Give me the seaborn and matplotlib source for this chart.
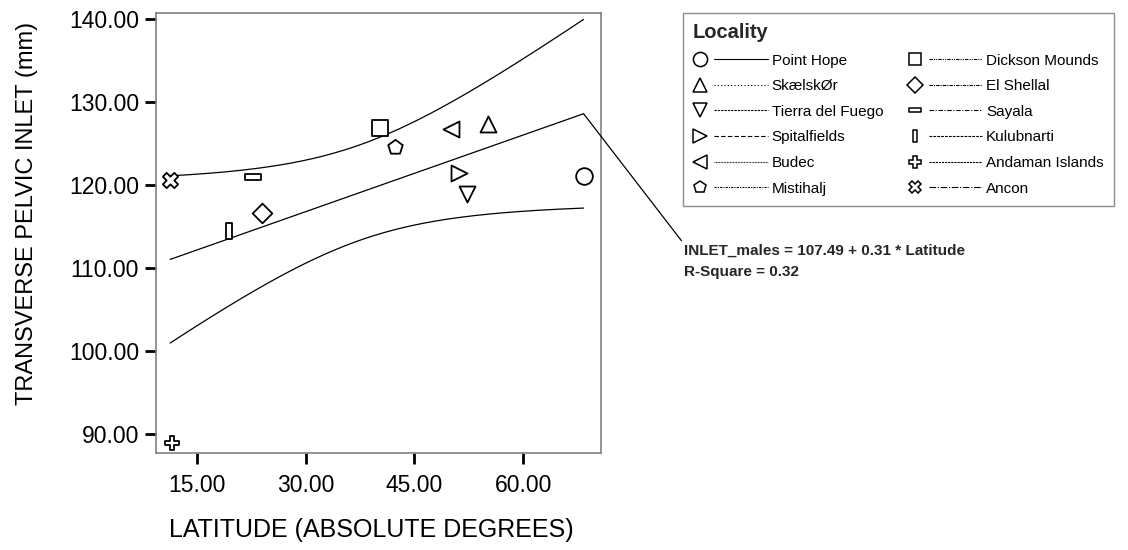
import matplotlib
matplotlib.use("Agg")
import matplotlib.pyplot as plt
import seaborn as sns
import pandas as pd
import numpy as np
from matplotlib.path import Path
from matplotlib.lines import Line2D
from matplotlib.legend_handler import HandlerBase

# data
localities = ['Point Hope', 'Skælskør', 'Tierra del Fuego', 'Spitalfields', 'Budec', 'Mistihalj',
              'Dickson Mounds', 'El Shellal', 'Sayala', 'Kulubnarti', 'Andaman Islands', 'Ancon']
latitude = [68.3, 55.2, 52.3, 51.2, 50.1, 42.3, 40.2, 23.95, 22.8, 19.5, 11.6, 11.34]
inlet = [121.1, 127.4, 118.9, 121.5, 126.7, 124.6, 126.9, 116.6, 121.0, 114.5, 88.9, 120.6]
legend_labels = ['Point Hope', 'SkælskØr', 'Tierra del Fuego', 'Spitalfields', 'Budec', 'Mistihalj',
                 'Dickson Mounds', 'El Shellal', 'Sayala', 'Kulubnarti', 'Andaman Islands', 'Ancon']
yticks = [90, 100, 110, 120, 130, 140]
xticks = [15, 30, 45, 60]

df = pd.DataFrame({'Locality': localities, 'Latitude': latitude, 'INLET': inlet})

# marker shapes
hrect = Path([(-3, -1), (3, -1), (3, 1), (-3, 1), (-3, -1)], closed=True)
vrect = Path([(-1, -3), (1, -3), (1, 3), (-1, 3), (-1, -3)], closed=True)
markers = {'Point Hope': 'o', 'Skælskør': '^', 'Tierra del Fuego': 'v', 'Spitalfields': '>',
           'Budec': '<', 'Mistihalj': 'p', 'Dickson Mounds': 's', 'El Shellal': 'D',
           'Sayala': hrect, 'Kulubnarti': vrect, 'Andaman Islands': 'P', 'Ancon': 'X'}
sizes = {'Point Hope': 12, 'Skælskør': 11.5, 'Tierra del Fuego': 11.5, 'Spitalfields': 11.5,
         'Budec': 11.5, 'Mistihalj': 11, 'Dickson Mounds': 11, 'El Shellal': 10,
         'Sayala': 11, 'Kulubnarti': 11, 'Andaman Islands': 10, 'Ancon': 11}
lstyles = {'Point Hope': '-', 'Skælskør': (0, (1, 2)), 'Tierra del Fuego': (0, (2, 1)),
           'Spitalfields': (0, (4, 2)), 'Budec': (0, (0.7, 0.7)), 'Mistihalj': (0, (2, 1, 1, 1)),
           'Dickson Mounds': (0, (3, 1, 1, 1, 1, 1)), 'El Shellal': (0, (3, 1, 1, 1)),
           'Sayala': (0, (4, 1.5, 1, 1.5)), 'Kulubnarti': (0, (2.5, 1)),
           'Andaman Islands': (0, (2, 0.8)), 'Ancon': (0, (6, 1.5, 1, 1.5))}

sns.set_theme(style="white")
plt.rcParams['font.family'] = ['Liberation Sans', 'DejaVu Sans']

fig = plt.figure(figsize=(11.28, 5.5), dpi=100)
ax = fig.add_axes([155.7 / 1128, 1 - 453 / 550, (601 - 155.7) / 1128, 440 / 550])

# fitted line and 95% confidence band of the mean
x = np.array(latitude)
y = np.array(inlet)
n = len(x)
b1, b0 = np.polyfit(x, y, 1)
xs = np.linspace(x.min(), x.max(), 200)
yhat = b0 + b1 * xs
resid = y - (b0 + b1 * x)
s = np.sqrt(np.sum(resid ** 2) / (n - 2))
sxx = np.sum((x - x.mean()) ** 2)
t = 2.228
half = t * s * np.sqrt(1 / n + (xs - x.mean()) ** 2 / sxx)
fit = pd.DataFrame({'x': xs, 'fit': yhat, 'lo': yhat - half, 'hi': yhat + half})
for col in ['fit', 'lo', 'hi']:
    sns.lineplot(data=fit, x='x', y=col, ax=ax, color='black', linewidth=0.9)

for loc in localities:
    sub = df[df['Locality'] == loc]
    sns.scatterplot(data=sub, x='Latitude', y='INLET', ax=ax, marker=markers[loc],
                    s=sizes[loc] ** 2, color='white', edgecolor='black', linewidth=1.3,
                    legend=False, zorder=3)

ax.set_xlim(9.35, 70.7)
ax.set_ylim(87.7, 140.72)
ax.set_xticks(xticks)
ax.set_xticklabels([f'{v:.2f}' for v in xticks])
ax.set_yticks(yticks)
ax.set_yticklabels([f'{v:.2f}' for v in yticks])
ax.tick_params(axis='both', direction='out', length=8, width=2, color='black',
               labelsize=16.5, labelcolor='black', left=True, bottom=True)
ax.tick_params(axis='y', pad=4)
ax.tick_params(axis='x', pad=7)
for sp in ax.spines.values():
    sp.set_color('#808080')
    sp.set_linewidth(1.2)

ax.set_xlabel('LATITUDE (ABSOLUTE DEGREES)', fontsize=18, color='black')
ax.set_ylabel('TRANSVERSE PELVIC INLET (mm)', fontsize=17, color='black')
ax.xaxis.set_label_coords(0.4846, -0.148)
ax.yaxis.set_label_coords(-0.264, 0.545)

# equation annotation with leader line
ax.annotate('INLET_males = 107.49 + 0.31 * Latitude\nR-Square = 0.32',
            xy=(xs[-1], yhat[-1]), xycoords='data',
            xytext=(684 / 1128, 1 - 244 / 550), textcoords='figure fraction',
            ha='left', va='top', fontsize=11, fontweight='bold', linespacing=1.6,
            arrowprops=dict(arrowstyle='-', color='black', lw=0.9,
                            shrinkA=0, shrinkB=0, relpos=(0, 1)),
            annotation_clip=False)


class MarkerLineHandler(HandlerBase):
    def create_artists(self, legend, orig_handle, xdescent, ydescent, width, height, fontsize, trans):
        yc = height / 2 - ydescent
        mk = Line2D([5 - xdescent], [yc], marker=orig_handle.get_marker(), linestyle='none',
                    markersize=orig_handle.get_markersize(), markerfacecolor='white',
                    markeredgecolor='black', markeredgewidth=1.1)
        ln = Line2D([15.5 - xdescent, width - xdescent], [yc, yc])
        ln.update_from(orig_handle)
        ln.set_marker('none')
        ln.set_linewidth(0.8)
        ln.set_data([15.5 - xdescent, width - xdescent], [yc, yc])
        mk.set_transform(trans)
        ln.set_transform(trans)
        return [ln, mk]


handles = []
for loc in localities:
    handles.append(Line2D([], [], marker=markers[loc], markersize=sizes[loc] * 0.85,
                          linestyle=lstyles[loc], color='black'))

leg = fig.legend(handles, legend_labels, loc='upper left',
                 bbox_to_anchor=(683 / 1128, 1 - 13 / 550), borderaxespad=0, ncol=2,
                 title='Locality', title_fontproperties={'weight': 'bold', 'size': 14.5},
                 alignment='left', fontsize=11, handlelength=4.9, handletextpad=0.25,
                 columnspacing=1.6, labelspacing=0.76, borderpad=0.65,
                 frameon=True, fancybox=False, edgecolor='#707070',
                 handler_map={Line2D: MarkerLineHandler()})
leg.get_frame().set_linewidth(1.0)
for txt in leg.get_texts():
    txt.set_color('black')

fig.savefig('out.png', dpi=100, facecolor='white')
